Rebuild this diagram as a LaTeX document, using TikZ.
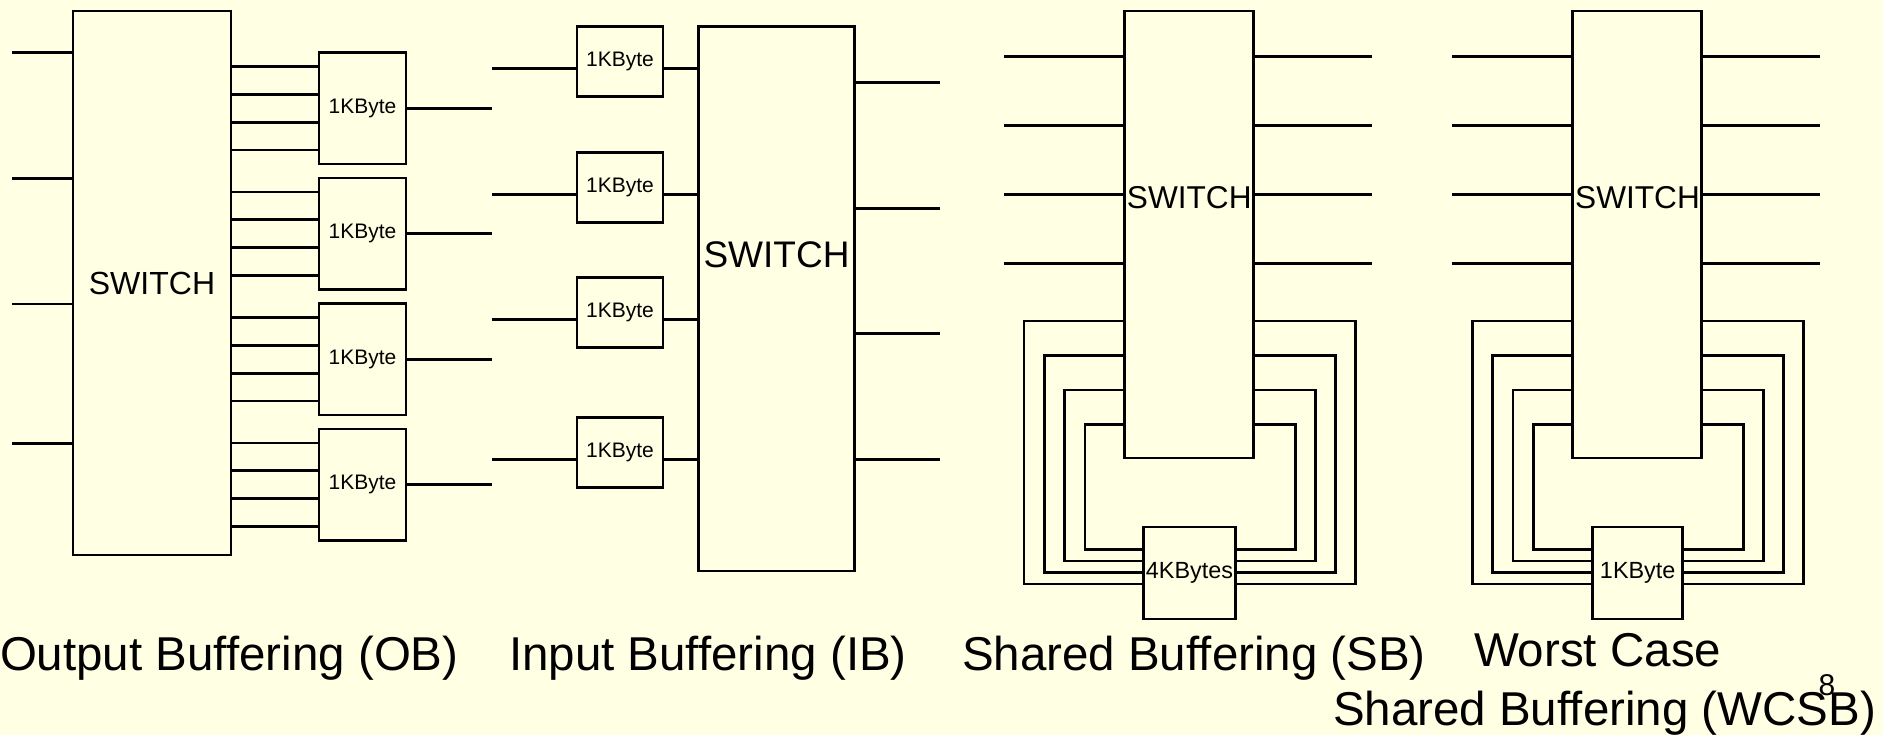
\documentclass[tikz,border=0pt]{standalone}
\usepackage{fontspec}
\setmainfont{Liberation Sans}
\usetikzlibrary{calc}
\definecolor{paper}{RGB}{255,255,228}
\newcommand\pxfont[1]{\fontsize{#1}{#1}\selectfont}
\begin{document}
\begin{tikzpicture}[x=1pt,y=-1pt,
  wire/.style={line width=2.8pt},
  blk/.style={draw, line width=2.8pt, inner sep=0pt, outer sep=0pt},
  lbl/.style={inner sep=0pt, outer sep=0pt, anchor=base},
  capt/.style={inner sep=0pt, outer sep=0pt, anchor=base west, font=\pxfont{47.5}},
]
\fill[paper] (0,0) rectangle (1883,735);
\useasboundingbox (0,0) rectangle (1883,735);

% ---------- Output buffering ----------
\node[blk, minimum width=158pt, minimum height=544pt] (obsw) at (152,283) {};
\node[lbl, font=\pxfont{32}] (obswt) at (152,295) {SWITCH};
\foreach \i/\y in {1/52.3,2/178.3,3/304,4/443.3} {
  \coordinate (obin\i) at (12,\y);
  \draw[wire] (obin\i) -- (obin\i -| obsw.west);
}
\foreach \i in {1,...,4} {
  \pgfmathsetmacro\cy{108.25+125.5*(\i-1)}
  \node[blk, minimum width=87pt, minimum height=111.5pt, font=\pxfont{21}] (ob\i) at (362.5,\cy) {1KByte};
  \foreach \k in {1,3,5,7} {
    \coordinate (obf\i\k) at ($(ob\i.north west)!\k/8!(ob\i.south west)$);
    \draw[wire] (obsw.east |- obf\i\k) -- (obf\i\k);
  }
  \coordinate (obout\i) at (492,\cy);
  \draw[wire] (ob\i.east) -- (obout\i);
}

% ---------- Input buffering ----------
\node[blk, minimum width=156.4pt, minimum height=544.3pt] (ibsw) at (776.5,298.85) {};
\node[lbl, font=\pxfont{37}] (ibswt) at (776.5,267.7) {SWITCH};
\foreach \i/\cy in {1/61.7,2/187.3,3/312.7,4/452.3} {
  \node[blk, minimum width=86pt, minimum height=70pt, font=\pxfont{21}] (ib\i) at (620,\cy) {1KByte};
  \coordinate (ibin\i) at (492,\cy+7);
  \draw[wire] (ibin\i) -- (ibin\i -| ib\i.west);
  \draw[wire] (ibin\i -| ib\i.east) -- (ibin\i -| ibsw.west);
}
\foreach \i/\y in {1/82.3,2/208.3,3/333.7,4/459.3} {
  \coordinate (ibout\i) at (940,\y);
  \draw[wire] (ibsw.east |- ibout\i) -- (ibout\i);
}

% ---------- Shared buffering, and its worst case ----------
\foreach \p/\dx/\bw/\mem in {sb/0/92/4KBytes, wc/448.2/90/1KByte} {
  \node[blk, minimum width=129.2pt, minimum height=447pt] (\p sw) at (1188.8+\dx,234.5) {};
  \node[lbl, font=\pxfont{31.6}] (\p swt) at (1189.3+\dx,208.3) {SWITCH};
  \node[blk, minimum width=\bw pt, minimum height=92pt, font=\pxfont{23.4}] (\p buf) at (1189.5+\dx,573) {\mem};
  \foreach \i/\y in {1/56.7,2/125.7,3/194.3,4/263.3} {
    \coordinate (\p in\i) at (1004+\dx,\y);
    \coordinate (\p out\i) at (1371.7+\dx,\y);
    \draw[wire] (\p in\i) -- (\p in\i -| \p sw.west);
    \draw[wire] (\p sw.east |- \p out\i) -- (\p out\i);
  }
  \foreach \k/\yt/\yb/\xl/\xr in {1/321/584/1024/1355.5, 2/355.5/572.5/1044.3/1335.5,
                                 3/390/561/1064.7/1315.5, 4/424.5/549.5/1085/1295.5} {
    \coordinate (\p la\k) at (\xl+\dx,\yt);
    \coordinate (\p lb\k) at (\xl+\dx,\yb);
    \coordinate (\p ra\k) at (\xr+\dx,\yt);
    \coordinate (\p rb\k) at (\xr+\dx,\yb);
    \draw[wire, line join=miter] (\p sw.west |- \p la\k) -- (\p la\k) -- (\p lb\k) -- (\p lb\k -| \p buf.west);
    \draw[wire, line join=miter] (\p sw.east |- \p ra\k) -- (\p ra\k) -- (\p rb\k) -- (\p rb\k -| \p buf.east);
  }
}

% ---------- Captions ----------
\node[capt] (capob) at (0,670) {Output Buffering (OB)};
\node[capt] (capib) at (509,670) {Input Buffering (IB)};
\node[capt] (capsb) at (962,670) {Shared Buffering (SB)};
\node[capt] (capwca) at (1474,666) {Worst Case};
\node[capt] (capwcb) at (1333,725) {Shared Buffering (WCSB)};
\node[lbl, font=\pxfont{30}] (pageno) at (1827,695) {8};
\end{tikzpicture}
\end{document}
